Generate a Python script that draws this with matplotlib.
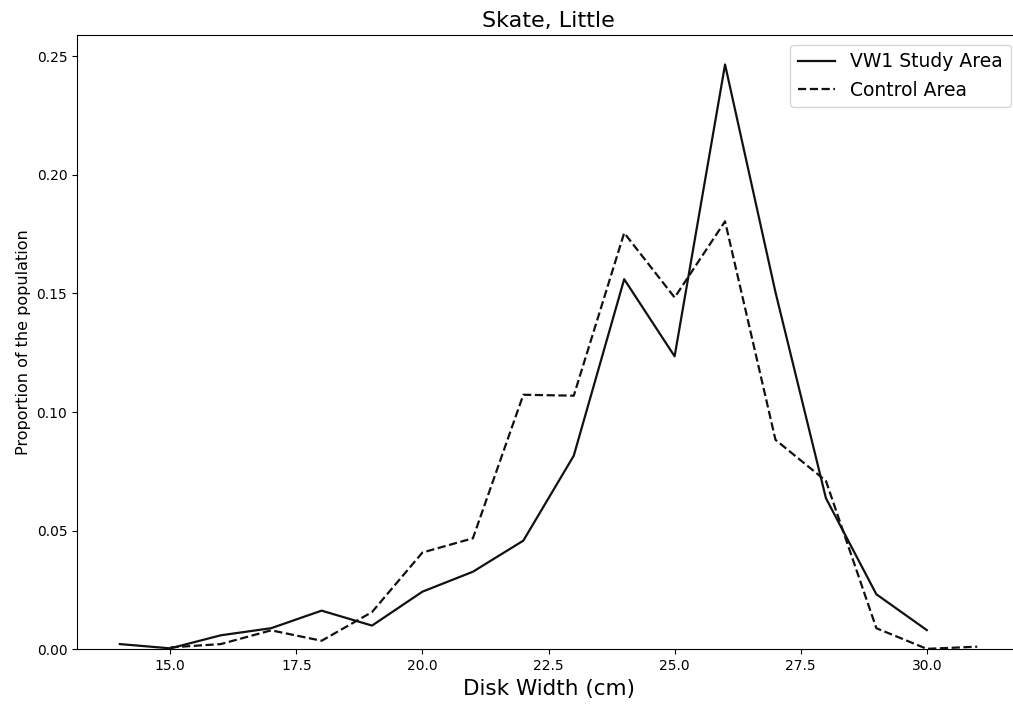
import matplotlib
matplotlib.use("Agg")
import matplotlib.pyplot as plt

# disk width bins (cm) and proportion of population per bin
study_width = [14, 15, 16, 17, 18, 19, 20, 21, 22, 23, 24, 25, 26, 27, 28, 29, 30]
study_prop = [0.0022, 0.0004, 0.0059, 0.0089, 0.0163, 0.0100, 0.0243, 0.0327,
              0.0458, 0.0816, 0.1560, 0.1235, 0.2465, 0.1505, 0.0637, 0.0232, 0.0081]

control_width = [15, 16, 17, 18, 19, 20, 21, 22, 23, 24, 25, 26, 27, 28, 29, 30, 31]
control_prop = [0.0008, 0.0022, 0.0080, 0.0036, 0.0157, 0.0408, 0.0468, 0.1073,
                0.1069, 0.1755, 0.1483, 0.1804, 0.0883, 0.0710, 0.0089, 0.0002, 0.0011]

fig = plt.figure(figsize=(10.13, 7.06), dpi=100)
# axes runs a bit past the right edge, as in the reference crop
ax = fig.add_axes([0.076, 0.0803, 0.931, 0.8697])

ax.plot(study_width, study_prop, color="#111111", linestyle="-", linewidth=1.6,
        label="VW1 Study Area")
ax.plot(control_width, control_prop, color="#111111", linestyle="--", linewidth=1.6,
        label="Control Area")

ax.set_ylim(bottom=0)
ax.set_yticks([0.0, 0.05, 0.10, 0.15, 0.20, 0.25])
ax.set_xticks([15.0, 17.5, 20.0, 22.5, 25.0, 27.5, 30.0])
ax.tick_params(labelsize=10)

ax.set_title("Skate, Little", fontsize=16)
ax.set_xlabel("Disk Width (cm)", fontsize=15.5)
ax.set_ylabel("Proportion of the population", fontsize=11.5)
ax.legend(loc="upper right", fontsize=13.5)

fig.savefig("out.png", dpi=100)
